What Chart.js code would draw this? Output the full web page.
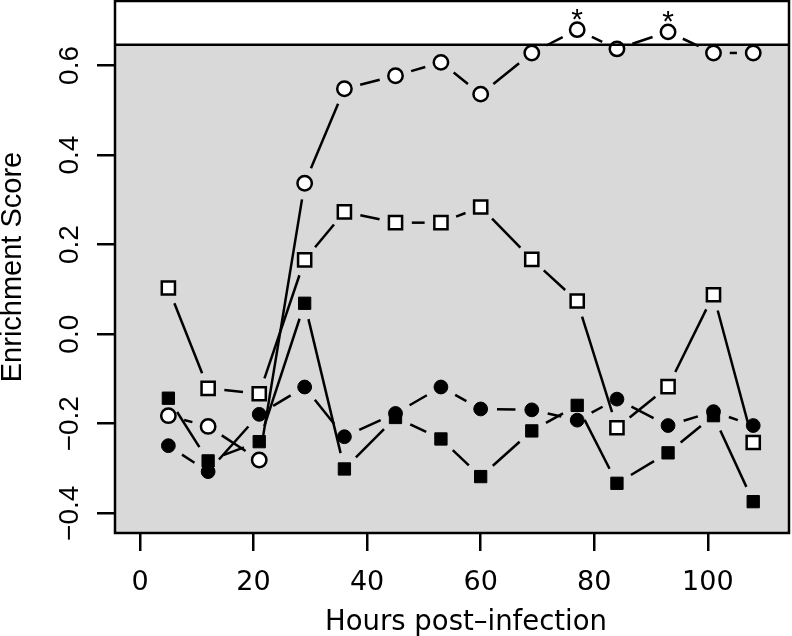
<!DOCTYPE html>
<html>
<head>
<meta charset="utf-8">
<script src="https://cdn.jsdelivr.net/npm/chart.js@4/dist/chart.umd.min.js"></script>
<style>
  html, body { margin: 0; padding: 0; background: #fff; }
  #wrap { width: 792px; height: 636px; }
</style>
</head>
<body>
<div id="wrap"><canvas id="c" width="792" height="636"></canvas></div>
<script>
// hours post-infection (sampling times)
const hours = [5, 12, 21, 29, 36, 45, 53, 60, 69, 77, 84, 93, 101, 108];

// enrichment scores, one array per marker type
const openCircle   = [-0.182, -0.206, -0.281, 0.337, 0.548, 0.577, 0.607, 0.536, 0.628, 0.680, 0.637, 0.675, 0.628, 0.628];
const openSquare   = [0.103, -0.121, -0.133, 0.166, 0.273, 0.249, 0.249, 0.284, 0.167, 0.074, -0.209, -0.117, 0.088, -0.242];
const filledSquare = [-0.143, -0.283, -0.240, 0.069, -0.301, -0.186, -0.234, -0.318, -0.216, -0.159, -0.333, -0.265, -0.182, -0.374];
const filledCircle = [-0.249, -0.307, -0.179, -0.118, -0.229, -0.177, -0.118, -0.167, -0.169, -0.192, -0.145, -0.204, -0.173, -0.204];

// significant points (marked with *)
const starHours = [77, 93];

// shaded band goes up to this score
const bandTop = 0.6465;

const xTicks = [0, 20, 40, 60, 80, 100];
const yTicks = [-0.4, -0.2, 0.0, 0.2, 0.4, 0.6];

const xTitle = 'Hours post–infection';

const toPts = vals => hours.map((h, i) => ({ x: h, y: vals[i] }));

const GAP = 16.3; // R type="b" leaves a gap round each point

const rStyle = {
  id: 'rStyle',
  beforeDatasetsDraw(chart) {
    const { ctx, chartArea: a, scales } = chart;
    const yb = scales.y.getPixelForValue(bandTop);
    ctx.save();
    ctx.fillStyle = '#d9d9d9';
    ctx.fillRect(a.left, yb, a.right - a.left, a.bottom - yb);

    // gapped connecting lines
    ctx.strokeStyle = '#000';
    ctx.lineWidth = 2.5;
    ctx.lineCap = 'butt';
    chart.data.datasets.forEach((ds, di) => {
      const pts = chart.getDatasetMeta(di).data;
      for (let i = 0; i < pts.length - 1; i++) {
        const p = pts[i], q = pts[i + 1];
        const dx = q.x - p.x, dy = q.y - p.y;
        const d = Math.hypot(dx, dy);
        if (d <= 2 * GAP) continue;
        const ux = dx / d, uy = dy / d;
        ctx.beginPath();
        ctx.moveTo(p.x + ux * GAP, p.y + uy * GAP);
        ctx.lineTo(q.x - ux * GAP, q.y - uy * GAP);
        ctx.stroke();
      }
    });
    ctx.restore();
  },
  afterDatasetsDraw(chart) {
    const { ctx, chartArea: a, scales } = chart;
    const yb = scales.y.getPixelForValue(bandTop);
    ctx.save();
    ctx.strokeStyle = '#000';
    ctx.lineWidth = 2.5;
    ctx.beginPath();
    ctx.moveTo(a.left, yb);
    ctx.lineTo(a.right, yb);
    ctx.stroke();
    ctx.strokeRect(a.left, a.top, a.right - a.left, a.bottom - a.top);

    // asterisks above the significant points
    ctx.fillStyle = '#000';
    ctx.font = '30px "Liberation Sans", Arial, sans-serif';
    ctx.textAlign = 'center';
    ctx.textBaseline = 'middle';
    starHours.forEach(h => {
      const i = hours.indexOf(h);
      const px = scales.x.getPixelForValue(h);
      const py = scales.y.getPixelForValue(openCircle[i]);
      ctx.fillText('*', px, py - 9);
    });

    // x axis title (sits a little right of the plot centre, as in the original)
    ctx.font = '27.5px "DejaVu Sans", Verdana, sans-serif';
    ctx.textBaseline = 'alphabetic';
    ctx.fillText(xTitle, (a.left + a.right) / 2 + 14, 630);
    ctx.restore();
  }
};

new Chart(document.getElementById('c'), {
  type: 'scatter',
  data: {
    datasets: [
      { data: toPts(openCircle), pointStyle: 'circle', pointRadius: 7.2, pointBackgroundColor: '#fff', pointBorderColor: '#000', pointBorderWidth: 2.5 },
      { data: toPts(openSquare), pointStyle: 'rect', pointRadius: 9.3, pointBackgroundColor: '#fff', pointBorderColor: '#000', pointBorderWidth: 2.5 },
      { data: toPts(filledSquare), pointStyle: 'rect', pointRadius: 8.7, pointBackgroundColor: '#000', pointBorderColor: '#000', pointBorderWidth: 1 },
      { data: toPts(filledCircle), pointStyle: 'circle', pointRadius: 6.9, pointBackgroundColor: '#000', pointBorderColor: '#000', pointBorderWidth: 1 }
    ]
  },
  options: {
    responsive: false,
    animation: false,
    showLine: false,
    layout: { autoPadding: false, padding: { top: 1, right: 3, left: 0, bottom: 0 } },
    plugins: { legend: { display: false }, tooltip: { enabled: false } },
    scales: {
      x: {
        type: 'linear',
        min: -4.4,
        max: 114.3,
        afterBuildTicks: ax => { ax.ticks = xTicks.map(v => ({ value: v })); },
        afterFit: ax => { ax.height = 103; ax.paddingLeft = 0; ax.paddingRight = 0; },
        border: { display: false },
        grid: { drawOnChartArea: false, drawTicks: true, tickLength: 18, tickWidth: 2.5, tickColor: '#000', color: '#000', lineWidth: 2.5 },
        ticks: {
          color: '#000',
          padding: 16,
          maxRotation: 0,
          font: { family: '"DejaVu Sans", Verdana, sans-serif', size: 27 },
          callback: v => String(v)
        }
      },
      y: {
        type: 'linear',
        min: -0.444,
        max: 0.744,
        afterBuildTicks: ax => { ax.ticks = yTicks.map(v => ({ value: v })); },
        afterFit: ax => { ax.width = 115; ax.paddingTop = 0; ax.paddingBottom = 0; },
        border: { display: false },
        grid: { drawOnChartArea: false, drawTicks: true, tickLength: 18, tickWidth: 2.5, tickColor: '#000', color: '#000', lineWidth: 2.5 },
        ticks: {
          color: '#000',
          padding: -1,
          minRotation: 90,
          maxRotation: 90,
          crossAlign: 'center',
          font: { family: '"Liberation Sans", Arial, sans-serif', size: 28 },
          callback: v => (v < 0 ? '\u2212' : '') + Math.abs(v).toFixed(1)
        },
        title: {
          display: true,
          text: 'Enrichment Score',
          color: '#000',
          font: { family: '"Liberation Sans", Arial, sans-serif', size: 29, lineHeight: 1 },
          padding: { top: -2, bottom: 0 }
        }
      }
    }
  },
  plugins: [rStyle]
});
</script>
</body>
</html>
